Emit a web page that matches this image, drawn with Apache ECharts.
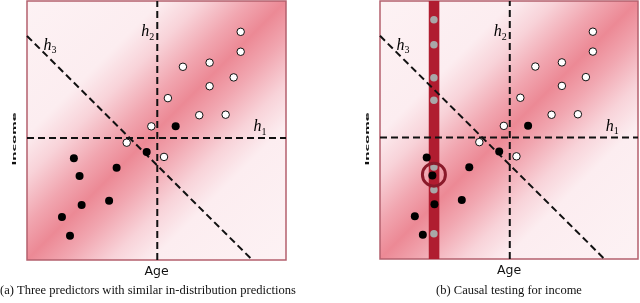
<!DOCTYPE html>
<html><head><meta charset="utf-8">
<script src="https://cdn.jsdelivr.net/npm/echarts@6/dist/echarts.min.js"></script>
<style>html,body{margin:0;padding:0;background:#fff}#c{width:640px;height:303px}</style>
</head><body><div id="c"></div>
<script>
// ---- data (both panels share a 0..10 Age x Income space) ----
const openPts = [[8.25,8.81],[8.25,8.04],[6.02,7.46],[7.05,7.62],[7.98,7.05],[7.05,6.71],[5.44,6.25],[6.65,5.59],[7.67,5.61],[4.80,5.16],[3.85,4.53],[5.29,3.98]];
const filledPts = [[5.74,5.16],[4.62,4.17],[1.81,3.93],[3.46,3.56],[2.03,3.24],[2.11,2.12],[3.17,2.29],[1.35,1.66],[1.66,0.94]];
const probePts = [[2.09,9.27],[2.09,8.30],[2.09,7.03],[2.09,6.15],[2.09,3.57],[2.09,2.68],[2.09,0.98]];
const probeBarX = [1.89, 2.30];
const ringPt = [[2.09,3.27]];
const h1Line = [[0,4.71],[10,4.71]];
const h2Line = [[5.03,0],[5.03,10]];
const h3Line = [[0,8.65],[8.70,0]];
const hLabels = [[9.0,5.1,'1'],[4.66,8.76,'2'],[0.89,8.24,'3']];
const xName = 'Age';
const yName = 'Income';
const captions = ['(a) Three predictors with similar in-distribution predictions','(b) Causal testing for income'];

const chart = echarts.init(document.getElementById('c'));
const bgGrad = {type:'linear',x:0,y:0,x2:1,y2:1,colorStops:[
  {offset:0,color:'#fdf2f4'},{offset:0.26,color:'#fcedf0'},{offset:0.34,color:'#f8d3d9'},
  {offset:0.43,color:'#f1a6b0'},{offset:0.5,color:'#ec8995'},{offset:0.57,color:'#f1a6b0'},
  {offset:0.66,color:'#f8d3d9'},{offset:0.74,color:'#fcedf0'},{offset:1,color:'#fdf2f4'}]};

const grids = [
  {left:27, top:1, width:259, height:259},
  {left:380, top:1, width:258, height:258}
];
const xAxes = grids.map((g,i)=>({gridIndex:i,type:'value',min:0,max:10,
  axisLine:{show:false},axisTick:{show:false},axisLabel:{show:false},splitLine:{show:false},
  name:xName,nameLocation:'middle',nameGap:5,
  nameTextStyle:{fontFamily:'DejaVu Sans',fontSize:12.5,color:'#111',verticalAlign:'top'}}));
const yAxes = grids.map((g,i)=>({gridIndex:i,type:'value',min:0,max:10,
  axisLine:{show:false},axisTick:{show:false},axisLabel:{show:false},splitLine:{show:false}}));

const dash = {color:'#111',width:2,type:[7,4]};
let series = [];
function panel(gi, probe){
  const ax = {xAxisIndex:gi,yAxisIndex:gi};
  series.push(Object.assign({type:'line',data:[[0,0]],showSymbol:false,symbol:'none',lineStyle:{opacity:0},z:1,silent:true,
    markArea:{silent:true,itemStyle:{color:bgGrad,borderColor:'#b4606e',borderWidth:1.5},
      data:[[{coord:[0,0]},{coord:[10,10]}]]}},ax));
  if(probe){
    series.push(Object.assign({type:'line',data:[[0,0]],showSymbol:false,symbol:'none',lineStyle:{opacity:0},z:2,silent:true,
      markArea:{silent:true,itemStyle:{color:'#b01d30',opacity:1},
        data:[[{coord:[probeBarX[0],0]},{coord:[probeBarX[1],10]}]]}},ax));
  }
  [h1Line,h2Line,h3Line].forEach(d=>series.push(Object.assign({type:'line',data:d,symbol:'none',lineStyle:dash,z:3,silent:true},ax)));
  series.push(Object.assign({type:'scatter',z:4,silent:true,symbol:'circle',symbolSize:2,
    itemStyle:{color:'rgba(0,0,0,0)',opacity:1},
    data:hLabels.map(l=>({value:[l[0],l[1]],sub:l[2]})),
    label:{show:true,position:'inside',opacity:1,formatter:p=>'{h|h}{s|'+p.data.sub+'}',
      rich:{h:{fontFamily:'Liberation Serif',fontStyle:'italic',fontSize:16,color:'#000',lineHeight:18,verticalAlign:'top'},
            s:{fontFamily:'Liberation Serif',fontSize:10,color:'#000',lineHeight:10,verticalAlign:'bottom'}}}},ax));
  if(probe){
    series.push(Object.assign({type:'scatter',data:probePts,symbolSize:7.5,itemStyle:{color:'#a8a8a8',opacity:1},z:5,silent:true},ax));
  }
  series.push(Object.assign({type:'scatter',data:openPts,symbolSize:7.5,itemStyle:{color:'#fff',borderColor:'#111',borderWidth:1,opacity:1},z:6,silent:true},ax));
  series.push(Object.assign({type:'scatter',data:filledPts,symbolSize:8,itemStyle:{color:'#000',opacity:1},z:6,silent:true},ax));
  if(probe){
    series.push(Object.assign({type:'scatter',data:ringPt,symbolSize:23,itemStyle:{color:'rgba(0,0,0,0)',borderColor:'#8a1a2a',borderWidth:3,opacity:1},z:7,silent:true},ax));
  }
}
panel(0,false);
panel(1,true);

chart.setOption({
  animation:false,
  grid:grids, xAxis:xAxes, yAxis:yAxes, series:series,
  title:[
    {text:captions[0],left:0,top:284,padding:0,textStyle:{fontFamily:'Liberation Serif',fontWeight:'normal',fontSize:12.5,color:'#111'}},
    {text:captions[1],left:509,textAlign:'center',top:284,padding:0,textStyle:{fontFamily:'Liberation Serif',fontWeight:'normal',fontSize:12.5,color:'#111'}}
  ],
  graphic:[
    {type:'text',x:15,y:139,rotation:Math.PI/2,scaleY:0.4,style:{text:yName,fontFamily:'DejaVu Sans',fontWeight:'bold',fontSize:13,fill:'#111',align:'center',verticalAlign:'middle'}},
    {type:'text',x:368,y:139,rotation:Math.PI/2,scaleY:0.4,style:{text:yName,fontFamily:'DejaVu Sans',fontWeight:'bold',fontSize:13,fill:'#111',align:'center',verticalAlign:'middle'}}
  ]
});
</script></body></html>
